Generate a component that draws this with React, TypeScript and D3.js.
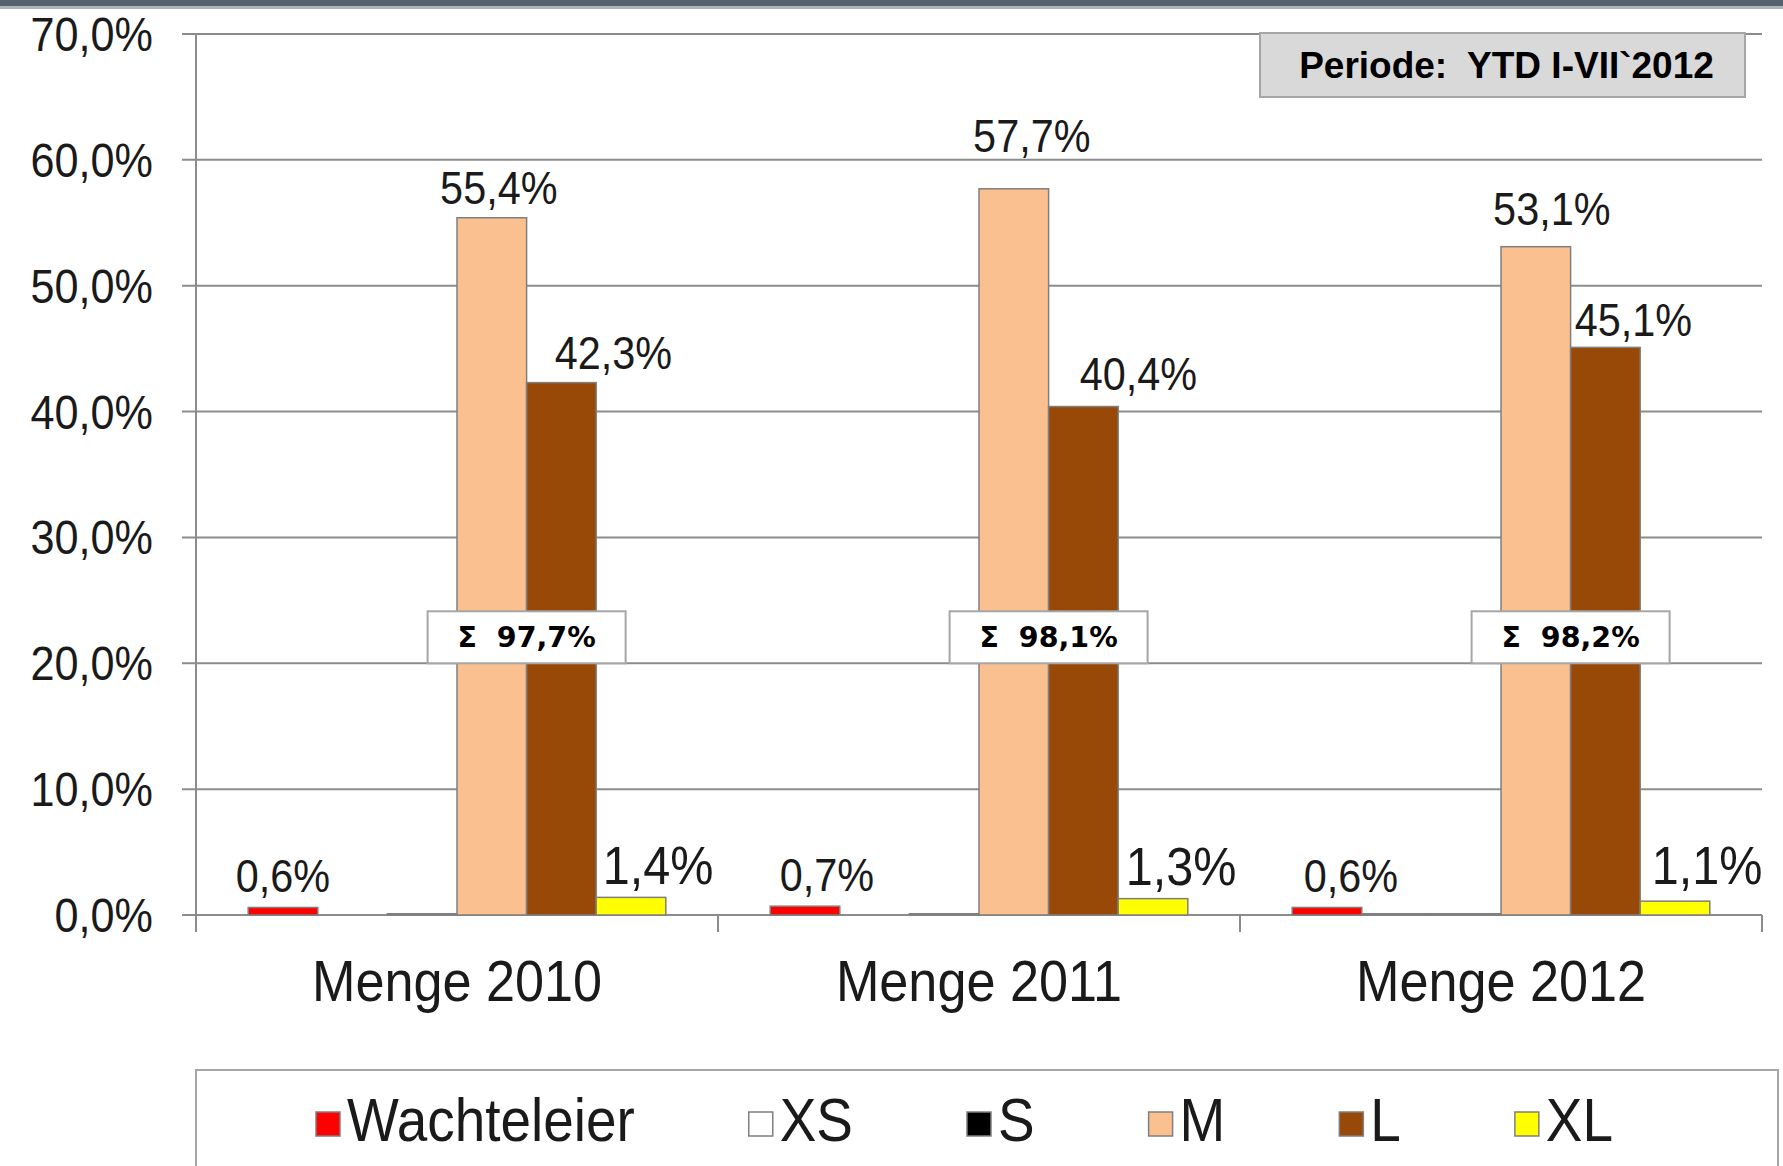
import React, { useEffect, useRef } from 'react';
import * as d3 from 'd3';

// chart data
const categories = ['Menge 2010', 'Menge 2011', 'Menge 2012'];
const seriesNames = ['Wachteleier', 'XS', 'S', 'M', 'L', 'XL'];
const wachteleier = [0.6, 0.7, 0.6];
const xs = [0, 0, 0.1];
const s = [0.1, 0.1, 0.1];
const m = [55.4, 57.7, 53.1];
const l = [42.3, 40.4, 45.1];
const xl = [1.4, 1.3, 1.1];
const sums = [97.7, 98.1, 98.2];
const yTicks = [0, 10, 20, 30, 40, 50, 60, 70];
const periodLabel = 'Periode:  YTD I-VII`2012';

const seriesValues = [wachteleier, xs, s, m, l, xl];
const seriesColors = ['#ff0000', '#ffffff', '#000000', '#fac090', '#984807', '#ffff00'];
const labelled = [true, false, false, true, true, true];

// manual label nudges as in the original slide (px)
const labelDx: { [k: string]: number[] } = {
  Wachteleier: [0, 22, 24],
  M: [7, 18, 16],
  L: [52, 55, 28],
  XL: [27, 28, 32],
};
const labelGap: { [k: string]: number[] } = {
  Wachteleier: [15, 15, 15],
  M: [14, 37, 22],
  L: [14, 17, 11],
  XL: [13, 14, 17],
};

const W = 1783;
const H = 1166;
const FONT = '"Liberation Sans", Arial, sans-serif';
const GRID = '#8c8c8c';
const TEXT = '#1a1a1a';

const de = d3.formatLocale({ decimal: ',', thousands: '.', grouping: [3], currency: ['', '€'] });
const pct = (v: number) => de.format('.1f')(v) + '%';

const App: React.FC = () => {
  const svgRef = useRef<SVGSVGElement | null>(null);

  useEffect(() => {
    if (!svgRef.current) return;
    const svg = d3.select(svgRef.current);
    svg.selectAll('*').remove();

    const left = 196, right = 1762, top = 34, bottom = 915;

    const x0 = d3.scaleBand<string>().domain(categories).range([left, right]).padding(0);
    const x1 = d3.scaleBand<string>().domain(seriesNames).range([0, x0.bandwidth()])
      .paddingInner(0).paddingOuter(0.75);
    const y = d3.scaleLinear().domain([0, 70]).range([bottom, top]);

    // top frame stripe
    svg.append('rect').attr('x', 0).attr('y', 0).attr('width', W).attr('height', 6).attr('fill', '#52626f');
    svg.append('rect').attr('x', 0).attr('y', 6).attr('width', W).attr('height', 3).attr('fill', '#a9b4bd');

    // gridlines
    svg.append('g').selectAll('line').data(yTicks).enter().append('line')
      .attr('x1', left - 14).attr('x2', right)
      .attr('y1', d => y(d)).attr('y2', d => y(d))
      .attr('stroke', GRID).attr('stroke-width', 2);

    // y axis line
    svg.append('line').attr('x1', left).attr('x2', left).attr('y1', y(70)).attr('y2', bottom + 17)
      .attr('stroke', GRID).attr('stroke-width', 2);

    // category ticks
    const tickXs = categories.map(c => x0(c)! + x0.bandwidth());
    svg.append('g').selectAll('line').data(tickXs).enter().append('line')
      .attr('x1', d => d).attr('x2', d => d).attr('y1', bottom).attr('y2', bottom + 17)
      .attr('stroke', GRID).attr('stroke-width', 2);

    // y labels
    svg.append('g').selectAll('text').data(yTicks).enter().append('text')
      .attr('transform', d => `translate(${left - 43},${y(d) + 17}) scale(0.9,1)`)
      .attr('text-anchor', 'end')
      .attr('font-family', FONT).attr('font-size', 48).attr('fill', TEXT)
      .text(d => pct(d));

    // bars
    seriesNames.forEach((name, si) => {
      const g = svg.append('g');
      g.selectAll('rect').data(seriesValues[si]).enter().append('rect')
        .attr('x', (_, i) => x0(categories[i])! + x1(name)!)
        .attr('width', x1.bandwidth())
        .attr('y', d => y(d))
        .attr('height', d => y(0) - y(d))
        .attr('fill', seriesColors[si])
        .attr('stroke', d => (d > 0 ? '#7f7f7f' : 'none'))
        .attr('stroke-width', 1.5);

      if (labelled[si]) {
        const big = name === 'XL';
        g.selectAll('text').data(seriesValues[si]).enter().append('text')
          .attr('transform', (d, i) => {
            const cx = x0(categories[i])! + x1(name)! + x1.bandwidth() / 2 + labelDx[name][i];
            return `translate(${cx},${y(d) - labelGap[name][i]}) scale(0.9,1)`;
          })
          .attr('text-anchor', 'middle')
          .attr('font-family', FONT).attr('font-size', big ? 54 : 46).attr('fill', TEXT)
          .text(d => pct(d));
      }
    });

    // sum boxes, centered on the M/L boundary
    sums.forEach((v, i) => {
      const cx = x0(categories[i])! + x1('L')!;
      const bw = 198, bh = 52;
      const g = svg.append('g');
      g.append('rect').attr('x', cx - bw / 2).attr('y', y(20) - bh).attr('width', bw).attr('height', bh)
        .attr('fill', '#ffffff').attr('stroke', '#a6a6a6').attr('stroke-width', 2);
      g.append('text').attr('x', cx).attr('y', y(20) - bh / 2 + 10)
        .attr('text-anchor', 'middle').style('white-space', 'pre')
        .attr('font-family', '"DejaVu Sans", Verdana, sans-serif').attr('font-weight', 'bold')
        .attr('font-size', 28.5).attr('fill', '#000')
        .text(`Σ  ${pct(v)}`);
    });

    // category labels
    svg.append('g').selectAll('text').data(categories).enter().append('text')
      .attr('transform', d => `translate(${x0(d)! + x0.bandwidth() / 2},1001) scale(0.9,1)`)
      .attr('text-anchor', 'middle')
      .attr('font-family', FONT).attr('font-size', 58).attr('fill', TEXT)
      .text(d => d);

    // period box
    const pb = { x0: 1260, x1: 1745, y0: 33, y1: 97 };
    svg.append('rect').attr('x', pb.x0).attr('y', pb.y0).attr('width', pb.x1 - pb.x0).attr('height', pb.y1 - pb.y0)
      .attr('fill', '#d9d9d9').attr('stroke', '#a6a6a6').attr('stroke-width', 2);
    svg.append('text').attr('x', (pb.x0 + pb.x1) / 2 + 4).attr('y', (pb.y0 + pb.y1) / 2 + 13)
      .attr('text-anchor', 'middle').style('white-space', 'pre')
      .attr('font-family', FONT).attr('font-weight', 'bold').attr('font-size', 37).attr('fill', '#000')
      .text(periodLabel);

    // legend
    svg.append('rect').attr('x', left).attr('y', 1070).attr('width', 1778 - left).attr('height', 120)
      .attr('fill', '#fff').attr('stroke', '#a6a6a6').attr('stroke-width', 2);
    let lx = 316;
    seriesNames.forEach((name, si) => {
      svg.append('rect').attr('x', lx).attr('y', 1112).attr('width', 24).attr('height', 24)
        .attr('fill', seriesColors[si]).attr('stroke', '#7f7f7f').attr('stroke-width', 1.5);
      const t = svg.append('text')
        .attr('transform', `translate(${lx + 31},1141) scale(0.9,1)`)
        .attr('font-family', FONT).attr('font-size', 61).attr('fill', TEXT)
        .text(name);
      const tw = (t.node() as SVGTextElement).getComputedTextLength() * 0.9;
      lx += 31 + tw + 114;
    });
  }, []);

  return (
    <svg
      ref={svgRef}
      width={W}
      height={H}
      style={{ position: 'absolute', left: 0, top: 0, background: '#ffffff' }}
    />
  );
};

export default App;
